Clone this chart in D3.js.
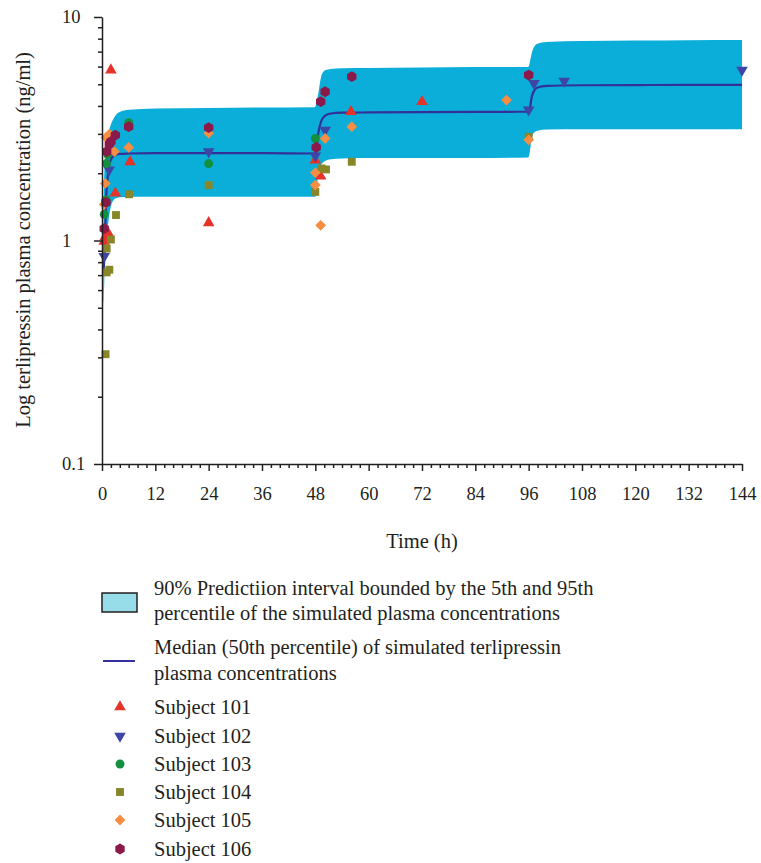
<!DOCTYPE html>
<html>
<head>
<meta charset="utf-8">
<script src="https://cdn.jsdelivr.net/npm/d3@7"></script>
<style>
  body { margin: 0; background: #fff; }
  svg text { font-family: "Liberation Serif", "DejaVu Serif", serif; fill: #231f20; }
</style>
</head>
<body>
<div class="container"></div>
<script>
// simulated percentiles
var simTime = [0.3, 0.4, 0.6, 0.9, 1.3, 2, 3, 4, 6, 12, 24, 36, 47.9, 48.2, 48.7, 49.4, 50.2, 51.5, 54, 60, 72, 84, 95.9, 96.2, 96.7, 97.3, 98, 100, 108, 120, 132, 144];
var p95 = [0.8, 1.5, 2.2, 2.65, 2.95, 3.3, 3.62, 3.76, 3.85, 3.9, 3.92, 3.94, 3.95, 4.1, 4.6, 5.5, 5.78, 5.86, 5.9, 5.92, 5.95, 5.97, 5.98, 6.2, 6.9, 7.4, 7.6, 7.72, 7.8, 7.85, 7.88, 7.9];
var p50 = [0.7, 0.76, 0.88, 1.5, 1.93, 2.3, 2.42, 2.44, 2.45, 2.46, 2.46, 2.46, 2.45, 2.5, 3.05, 3.45, 3.62, 3.7, 3.73, 3.74, 3.75, 3.76, 3.77, 3.85, 4.4, 4.7, 4.84, 4.92, 4.95, 4.96, 4.97, 4.97];
var p5 = [0.52, 0.55, 0.75, 0.95, 1.15, 1.42, 1.54, 1.56, 1.57, 1.57, 1.57, 1.57, 1.57, 1.6, 2.07, 2.2, 2.27, 2.31, 2.33, 2.34, 2.34, 2.34, 2.35, 2.45, 2.9, 3.05, 3.1, 3.14, 3.15, 3.15, 3.15, 3.15];

// observed concentrations [time h, ng/ml]
var subj101 = [[0.5, 0.99], [0.75, 1.04], [1.5, 1.07], [2, 5.79], [3, 1.63], [6.3, 2.25], [24, 1.2], [48, 2.29], [49.2, 1.94], [56, 3.77], [72, 4.18]];
var subj102 = [[0.5, 0.85], [1.6, 2.07], [24, 2.5], [48, 2.39], [50.2, 3.12], [96, 3.84], [97.2, 5.05], [104, 5.17], [144, 5.79]];
var subj103 = [[0.5, 1.31], [0.9, 1.52], [1.0, 2.21], [1.3, 2.42], [6, 3.37], [24, 2.21], [48, 2.86]];
var subj104 = [[0.8, 0.31], [1.05, 0.72], [1.65, 0.74], [1.05, 0.92], [2, 1.01], [3.15, 1.3], [6.1, 1.61], [24, 1.77], [48, 1.65], [49.4, 2.1], [50.4, 2.08], [56.2, 2.25], [96, 2.91]];
var subj105 = [[0.5, 1.45], [0.75, 1.8], [0.9, 2.89], [1.65, 2.99], [2.8, 2.5], [6, 2.61], [24, 3.02], [48, 2.01], [48, 1.77], [49.2, 1.17], [50.2, 2.86], [56.2, 3.23], [91, 4.25], [96, 2.82]];
var subj106 = [[0.5, 1.13], [0.9, 1.48], [1.05, 2.5], [1.65, 2.7], [2, 2.77], [3, 2.96], [6, 3.23], [24, 3.2], [48.2, 2.61], [49.2, 4.18], [50.2, 4.63], [56.2, 5.41], [96, 5.5]];

var subjectNames = ["Subject 101", "Subject 102", "Subject 103", "Subject 104", "Subject 105", "Subject 106"];
var subjectData = [subj101, subj102, subj103, subj104, subj105, subj106];
var subjectColors = ["#e5332a", "#3d45a6", "#12903e", "#878628", "#f58d43", "#8b1a4b"];
var subjectShapes = ["up", "down", "circle", "square", "diamond", "hex"];

var xTicks = d3.range(0, 145, 12);
var yTicks = [0.1, 1, 10];

var w = 761, h = 863;
var svg = d3.select(".container").append("svg").attr("width", w).attr("height", h);

var x = d3.scaleLinear().domain([0, 144]).range([102, 742]);
var y = d3.scaleLog().domain([0.1, 10]).range([464, 17]);

// prediction interval
var bandRows = simTime.map((t, i) => ({ t: t, lo: p5[i], mid: p50[i], hi: p95[i] }));
var area = d3.area()
  .x(d => x(d.t))
  .y0(d => y(d.lo))
  .y1(d => y(d.hi))
  .curve(d3.curveMonotoneX);
svg.append("path").datum(bandRows).attr("d", area).attr("fill", "#0aaed9");

var line = d3.line().x(d => x(d.t)).y(d => y(d.mid)).curve(d3.curveMonotoneX);
svg.append("path").datum(bandRows).attr("d", line)
  .attr("fill", "none").attr("stroke", "#33309a").attr("stroke-width", 2.2);

// marker shapes
function shapePath(kind) {
  if (kind == "up") return d3.symbol(d3.symbolTriangle, 58)();
  if (kind == "down") return d3.symbol(d3.symbolTriangle, 58)();
  if (kind == "circle") return d3.symbol(d3.symbolCircle, 62)();
  if (kind == "square") return d3.symbol(d3.symbolSquare, 62)();
  if (kind == "diamond") return d3.symbol(d3.symbolSquare, 58)();
  var r = 5.4, pts = [];
  for (var k = 0; k < 6; k++) {
    var a = Math.PI / 6 + k * Math.PI / 3;
    pts.push([r * Math.cos(a), r * Math.sin(a)]);
  }
  return "M" + pts.join("L") + "Z";
}
function shapeRot(kind) {
  if (kind == "down") return 180;
  if (kind == "diamond") return 45;
  return 0;
}

subjectData.forEach((pts, s) => {
  svg.append("g").selectAll("path")
    .data(pts)
    .enter()
    .append("path")
    .attr("d", shapePath(subjectShapes[s]))
    .attr("transform", d => "translate(" + x(d[0]) + "," + y(d[1]) + ") rotate(" + shapeRot(subjectShapes[s]) + ")")
    .attr("fill", subjectColors[s]);
});

// axes
var minorY = [];
[0.1, 1].forEach(dec => { for (var m = 2; m <= 9; m++) minorY.push(+(dec * m).toFixed(2)); });
var minorX = d3.range(0, 145, 2).filter(d => d % 12 != 0);

function styleAxis(g) {
  g.selectAll("path, line").attr("stroke", "#231f20").attr("stroke-width", 1.5);
  g.selectAll("text").style("font-size", "18.5px").attr("fill", "#231f20");
}

svg.append("g").attr("transform", "translate(102,0)")
  .call(d3.axisLeft(y).tickValues(minorY).tickSize(4).tickFormat(""))
  .call(g => g.select(".domain").remove())
  .call(styleAxis);
var yAxisG = svg.append("g").attr("id", "y-axis").attr("transform", "translate(102,0)")
  .call(d3.axisLeft(y).tickValues(yTicks).tickSize(8).tickSizeOuter(0).tickFormat(d3.format("~g")))
  .call(styleAxis);
yAxisG.selectAll("text").attr("text-anchor", "start").attr("x", -40);

svg.append("g").attr("transform", "translate(0,464)")
  .call(d3.axisBottom(x).tickValues(minorX).tickSize(4).tickFormat(""))
  .call(g => g.select(".domain").remove())
  .call(styleAxis);
var xAxisG = svg.append("g").attr("id", "x-axis").attr("transform", "translate(0,464)")
  .call(d3.axisBottom(x).tickValues(xTicks).tickSize(7).tickSizeOuter(0))
  .call(styleAxis);
xAxisG.selectAll("text").attr("y", 30).attr("dy", "0.35em");

svg.append("text")
  .attr("transform", "translate(23,240) rotate(-90)")
  .attr("text-anchor", "middle").attr("dy", "0.35em")
  .style("font-size", "20.5px")
  .text("Log terlipressin plasma concentration (ng/ml)");

svg.append("text")
  .attr("x", 422).attr("y", 541).attr("dy", "0.35em")
  .attr("text-anchor", "middle").style("font-size", "20.5px")
  .text("Time (h)");

// legend
var leg = svg.append("g");
leg.append("rect").attr("x", 102).attr("y", 593).attr("width", 35).attr("height", 19)
  .attr("fill", "#97dde9").attr("stroke", "#231f20").attr("stroke-width", 1.5);
leg.append("line").attr("x1", 103).attr("x2", 135).attr("y1", 661).attr("y2", 661)
  .attr("stroke", "#33309a").attr("stroke-width", 2);

var legLines = [
  ["90% Predictiion interval bounded by the 5th and 95th", 588],
  ["percentile of the simulated plasma concentrations", 613],
  ["Median (50th percentile) of simulated terlipressin", 647],
  ["plasma concentrations", 673]
];
legLines.forEach(l => {
  leg.append("text").attr("x", 154).attr("y", l[1]).attr("dy", "0.35em")
    .style("font-size", "20.5px").text(l[0]);
});

var legY = [707, 736, 764, 792, 820, 849];
subjectNames.forEach((name, s) => {
  leg.append("path")
    .attr("d", shapePath(subjectShapes[s]))
    .attr("transform", "translate(120," + legY[s] + ") rotate(" + shapeRot(subjectShapes[s]) + ")")
    .attr("fill", subjectColors[s]);
  leg.append("text").attr("x", 154).attr("y", legY[s]).attr("dy", "0.35em")
    .style("font-size", "20.5px").text(name);
});
</script>
</body>
</html>
